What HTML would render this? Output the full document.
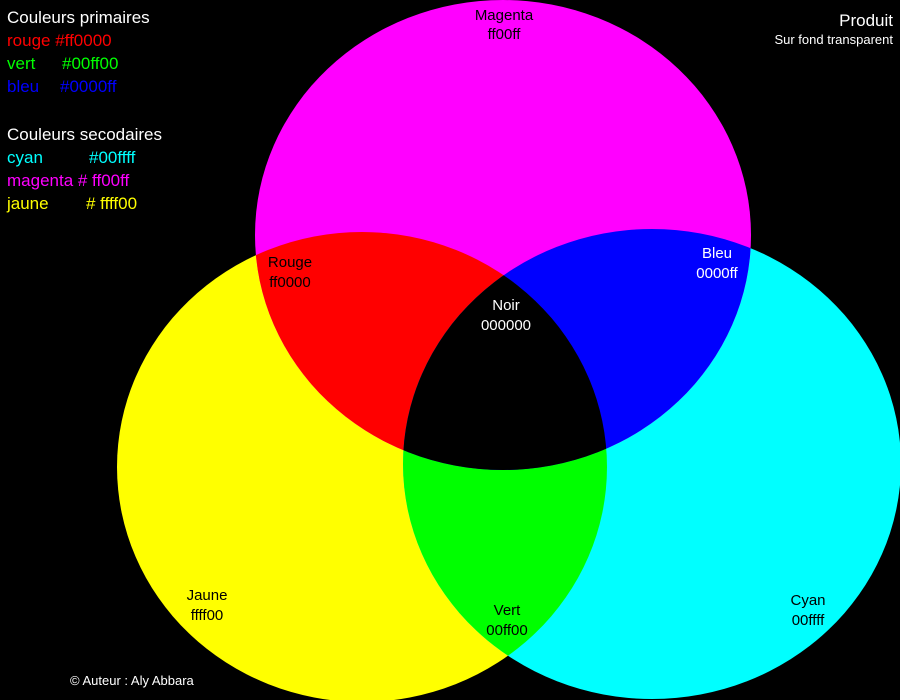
<!DOCTYPE html>
<html><head><meta charset="utf-8"><style>
html,body{margin:0;padding:0;background:#000;width:900px;height:700px;overflow:hidden}
svg{display:block}
text{font-family:"Liberation Sans",sans-serif}
</style></head><body>
<svg width="900" height="700" viewBox="0 0 900 700">
<defs>
<clipPath id="cy"><ellipse cx="362" cy="467" rx="245" ry="235"/></clipPath>
<clipPath id="cc"><ellipse cx="652" cy="464" rx="249" ry="235"/></clipPath>
</defs>
<rect width="900" height="700" fill="#000"/>
<ellipse cx="362" cy="467" rx="245" ry="235" fill="#ffff00"/>
<ellipse cx="652" cy="464" rx="249" ry="235" fill="#00ffff"/>
<ellipse cx="503" cy="235" rx="248" ry="235" fill="#ff00ff"/>
<g clip-path="url(#cy)"><ellipse cx="503" cy="235" rx="248" ry="235" fill="#ff0000"/><ellipse cx="652" cy="464" rx="249" ry="235" fill="#00ff00"/></g>
<g clip-path="url(#cc)"><ellipse cx="503" cy="235" rx="248" ry="235" fill="#0000ff"/></g>
<g clip-path="url(#cy)"><g clip-path="url(#cc)"><ellipse cx="503" cy="235" rx="248" ry="235" fill="#000"/></g></g>

<g font-size="17">
<text x="7" y="23" fill="#fff">Couleurs primaires</text>
<text x="7" y="46" fill="#ff0000">rouge #ff0000</text>
<text x="7" y="69" fill="#00ff00">vert</text><text x="62" y="69" fill="#00ff00">#00ff00</text>
<text x="7" y="92" fill="#0000ff">bleu</text><text x="60" y="92" fill="#0000ff">#0000ff</text>
<text x="7" y="140" fill="#fff">Couleurs secodaires</text>
<text x="7" y="163" fill="#00ffff">cyan</text><text x="89" y="163" fill="#00ffff">#00ffff</text>
<text x="7" y="186" fill="#ff00ff">magenta # ff00ff</text>
<text x="7" y="209" fill="#ffff00">jaune</text><text x="86" y="209" fill="#ffff00"># ffff00</text>
</g>
<text x="893" y="26" fill="#fff" font-size="17" text-anchor="end">Produit</text>
<text x="893" y="44" fill="#fff" font-size="13" text-anchor="end">Sur fond transparent</text>

<g font-size="15" text-anchor="middle">
<text x="504" y="20" fill="#000">Magenta</text><text x="504" y="39" fill="#000">ff00ff</text>
<text x="290" y="267" fill="#000">Rouge</text><text x="290" y="287" fill="#000">ff0000</text>
<text x="717" y="258" fill="#fff">Bleu</text><text x="717" y="278" fill="#fff">0000ff</text>
<text x="506" y="310" fill="#fff">Noir</text><text x="506" y="330" fill="#fff">000000</text>
<text x="207" y="600" fill="#000">Jaune</text><text x="207" y="620" fill="#000">ffff00</text>
<text x="507" y="615" fill="#000">Vert</text><text x="507" y="635" fill="#000">00ff00</text>
<text x="808" y="605" fill="#000">Cyan</text><text x="808" y="625" fill="#000">00ffff</text>
</g>
<text x="70" y="685" fill="#fff" font-size="13">© Auteur : Aly Abbara</text>
</svg>
</body></html>
